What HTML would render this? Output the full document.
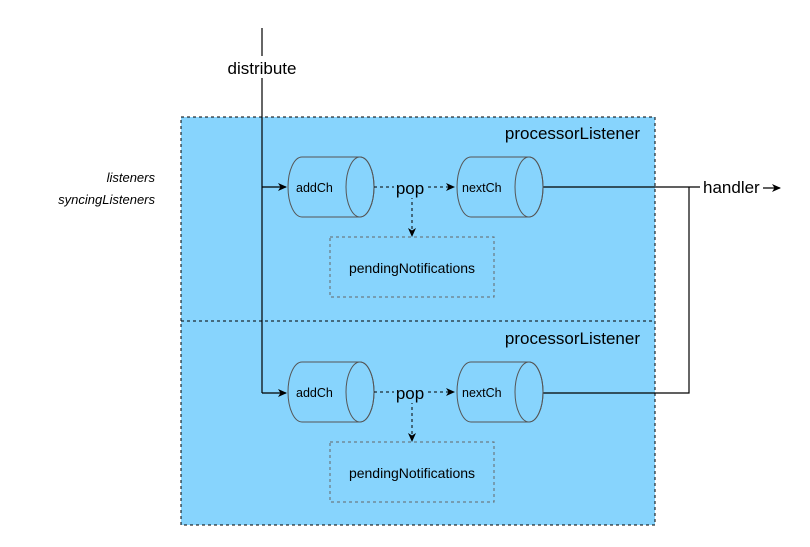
<!DOCTYPE html>
<html><head><meta charset="utf-8"><style>
html,body{margin:0;padding:0;background:#fff;width:810px;height:547px;overflow:hidden}
text{font-family:"Liberation Sans",sans-serif}
</style></head><body>
<svg width="810" height="547" viewBox="0 0 810 547" xmlns="http://www.w3.org/2000/svg">
<defs>
<marker id="a" markerWidth="10" markerHeight="10" refX="8" refY="5" orient="auto" markerUnits="userSpaceOnUse">
<path d="M0,1 L9,5 L0,9 L2.5,5 Z" fill="#000"/></marker>
</defs>
<rect x="181" y="117" width="474" height="408" fill="#87d4fd" stroke="#000" stroke-dasharray="3,3"/>
<line x1="181" y1="321" x2="655" y2="321" stroke="#000" stroke-dasharray="3,3"/>
<text x="640" y="139" font-size="17" text-anchor="end">processorListener</text>
<text x="640" y="344" font-size="17" text-anchor="end">processorListener</text>
<text x="155" y="182" font-size="13" font-style="italic" text-anchor="end">listeners</text>
<text x="155" y="204" font-size="13" font-style="italic" text-anchor="end">syncingListeners</text>
<line x1="262" y1="28" x2="262" y2="393" stroke="#000" stroke-width="1.2"/>
<rect x="224" y="56" width="76" height="22" fill="#fff"/>
<text x="262" y="74" font-size="17" text-anchor="middle">distribute</text>
<line x1="262" y1="187" x2="286" y2="187" stroke="#000" stroke-width="1.2" marker-end="url(#a)"/>
<line x1="262" y1="393" x2="286" y2="393" stroke="#000" stroke-width="1.2" marker-end="url(#a)"/>
<polyline points="543,187 700,187" fill="none" stroke="#000" stroke-width="1.2"/>
<polyline points="543,393 689,393 689,187" fill="none" stroke="#000" stroke-width="1.2"/>
<text x="703" y="193" font-size="17">handler</text>
<line x1="763" y1="188" x2="780" y2="188" stroke="#000" stroke-width="1.2" marker-end="url(#a)"/>
<g id="s1">
<path d="M302,157 L360,157 A14,30 0 0 1 360,217 L302,217 A14,30 0 0 1 302,157 Z" fill="#87d4fd" stroke="#555"/>
<ellipse cx="360" cy="187" rx="14" ry="30" fill="none" stroke="#555"/>
<text x="296" y="192" font-size="12.5">addCh</text>
<path d="M471,157 L529,157 A14,30 0 0 1 529,217 L471,217 A14,30 0 0 1 471,157 Z" fill="#87d4fd" stroke="#555"/>
<ellipse cx="529" cy="187" rx="14" ry="30" fill="none" stroke="#555"/>
<text x="462" y="192" font-size="12.5">nextCh</text>
<line x1="374" y1="187" x2="454" y2="187" stroke="#000" stroke-dasharray="3,3" marker-end="url(#a)"/>
<line x1="412" y1="196" x2="412" y2="236" stroke="#000" stroke-dasharray="3,3" marker-end="url(#a)"/>
<rect x="394" y="177" width="34" height="21" fill="#87d4fd"/>
<text x="410" y="194" font-size="17" text-anchor="middle">pop</text>
<rect x="330" y="237" width="164" height="60" fill="none" stroke="#666" stroke-dasharray="3,3"/>
<text x="412" y="273" font-size="14" text-anchor="middle">pendingNotifications</text>
</g>
<use href="#s1" transform="translate(0,205)"/>
</svg>
</body></html>
